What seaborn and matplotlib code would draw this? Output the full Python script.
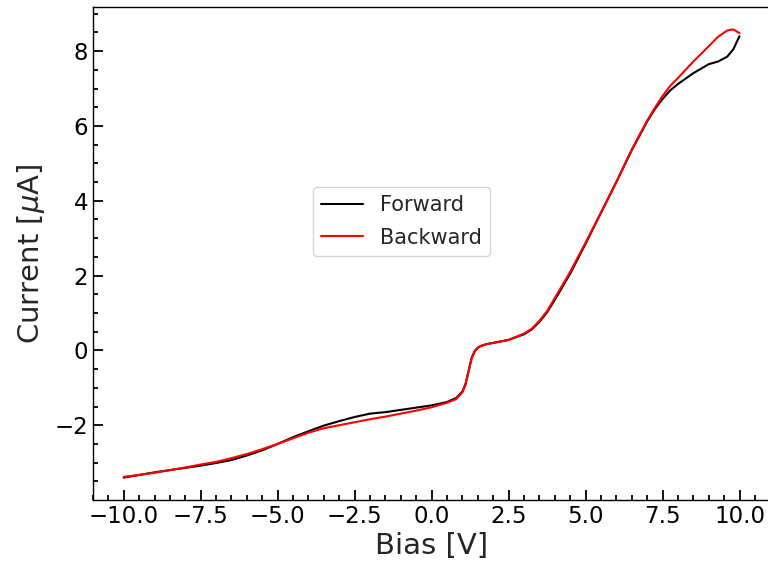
import numpy as np
import pandas as pd
import matplotlib
matplotlib.use("Agg")
import matplotlib.pyplot as plt
from matplotlib.ticker import MultipleLocator
import seaborn as sns

# forward sweep, -10 V -> 10 V
fwd_bias = [-10, -9.5, -9, -8.5, -8, -7.5, -7, -6.5, -6, -5.5, -5, -4.5, -4, -3.5, -3,
            -2.5, -2, -1.5, -1, -0.5, 0, 0.5, 0.8, 1.0, 1.1, 1.2, 1.3, 1.4, 1.5, 1.6,
            1.8, 2.0, 2.5, 3.0, 3.25, 3.5, 3.75, 4.0, 4.5, 5.0, 5.5, 6.0, 6.5, 7.0,
            7.25, 7.5, 7.75, 8.0, 8.5, 9.0, 9.3, 9.6, 9.8, 10.0]
fwd_current = [-3.40, -3.33, -3.26, -3.20, -3.14, -3.08, -3.01, -2.93, -2.81, -2.67,
               -2.50, -2.32, -2.16, -2.01, -1.89, -1.78, -1.69, -1.65, -1.59, -1.53,
               -1.47, -1.38, -1.27, -1.10, -0.90, -0.55, -0.20, -0.02, 0.07, 0.12,
               0.17, 0.20, 0.28, 0.43, 0.56, 0.76, 1.02, 1.35, 2.05, 2.85, 3.68, 4.50,
               5.35, 6.12, 6.45, 6.72, 6.95, 7.12, 7.41, 7.65, 7.72, 7.85, 8.05, 8.40]

# backward sweep, 10 V -> -10 V
bwd_bias = [10.0, 9.8, 9.6, 9.3, 9.0, 8.5, 8.0, 7.75, 7.5, 7.25, 7.0, 6.5, 6.0, 5.5,
            5.0, 4.5, 4.0, 3.75, 3.5, 3.25, 3.0, 2.5, 2.0, 1.8, 1.6, 1.5, 1.4, 1.3,
            1.2, 1.1, 1.0, 0.8, 0.5, 0, -0.5, -1, -1.5, -2, -2.5, -3, -3.5, -4, -4.5,
            -5, -5.5, -6, -6.5, -7, -7.5, -8, -8.5, -9, -9.5, -10]
bwd_current = [8.48, 8.58, 8.55, 8.38, 8.13, 7.72, 7.28, 7.07, 6.80, 6.48, 6.14, 5.37,
               4.50, 3.68, 2.88, 2.10, 1.40, 1.05, 0.79, 0.58, 0.45, 0.28, 0.20, 0.17,
               0.12, 0.07, -0.02, -0.22, -0.57, -0.92, -1.12, -1.30, -1.40, -1.52,
               -1.61, -1.69, -1.77, -1.84, -1.92, -2.00, -2.08, -2.20, -2.35, -2.50,
               -2.64, -2.77, -2.88, -2.98, -3.05, -3.13, -3.20, -3.27, -3.33, -3.38]

fwd = pd.DataFrame({"Bias": fwd_bias, "Current": fwd_current})
bwd = pd.DataFrame({"Bias": bwd_bias, "Current": bwd_current})

sns.set_style("ticks")
plt.rcParams["font.family"] = ["DejaVu Sans"]

fig = plt.figure(figsize=(7.68, 5.68), dpi=100)
ax = fig.add_axes([0.121, 0.1197, 0.882, 0.868])

sns.lineplot(data=fwd, x="Bias", y="Current", sort=False, color="black",
             lw=1.5, label="Forward", ax=ax)
sns.lineplot(data=bwd, x="Bias", y="Current", sort=False, color="red",
             lw=1.5, label="Backward", ax=ax)

ax.set_xlabel("Bias [V]", fontsize=21, labelpad=3)
ax.set_ylabel(r"Current [$\mu$A]", fontsize=21, labelpad=5)

ax.xaxis.set_minor_locator(MultipleLocator(0.5))
ax.yaxis.set_minor_locator(MultipleLocator(0.5))
ax.tick_params(which="both", direction="in", labelsize=16.5, colors="black")
ax.tick_params(which="major", length=7, width=1.3)
ax.tick_params(which="minor", length=3.5, width=1.3)
for s in ax.spines.values():
    s.set_color("black")
    s.set_linewidth(1.0)

ax.legend(loc="upper left", bbox_to_anchor=(0.325, 0.635), borderaxespad=0,
          fontsize=15, labelspacing=0.6)

fig.savefig("out.png", dpi=100)
